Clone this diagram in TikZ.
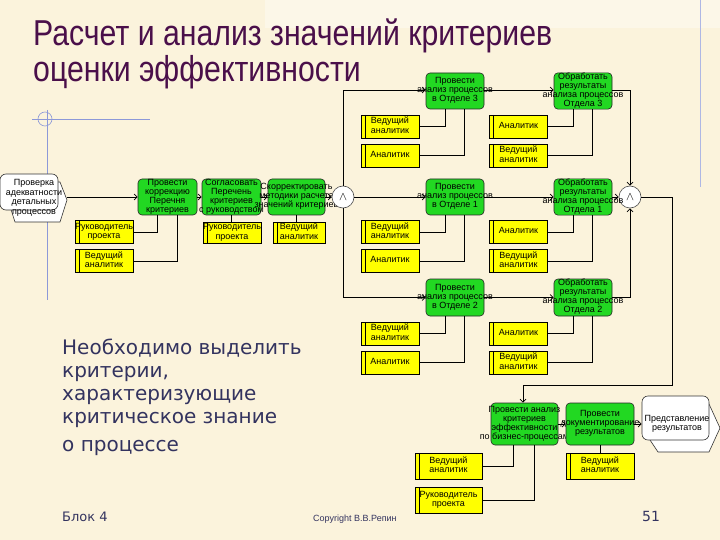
\documentclass[tikz,border=0pt]{standalone}
\usepackage{fontspec}
\setmainfont{Liberation Sans}
\newfontfamily\dejavu{DejaVu Sans}
\usetikzlibrary{arrows.meta,calc}
\definecolor{bg}{HTML}{FBF3DC}
\definecolor{actgreen}{HTML}{22D822}
\definecolor{resyellow}{HTML}{FFFF00}
\definecolor{titlec}{HTML}{4A0F4A}
\definecolor{slate}{HTML}{33335F}
\definecolor{decor}{HTML}{8C98D8}
\newcommand\boxtxt[1]{\makebox[0pt]{\begin{tabular}{@{}c@{}}#1\end{tabular}}}
\begin{document}
\begin{tikzpicture}[x=1pt,y=-1pt,
  gbox/.style={draw=black!85, line width=0.6pt, fill=actgreen, rounded corners=4pt, inner sep=0pt,
    font=\fontsize{9}{9}\selectfont, minimum width=58pt, minimum height=36pt},
  ybox/.style={draw=black, line width=0.6pt, fill=resyellow, inner sep=0pt,
    minimum width=58pt, minimum height=23pt, font=\fontsize{9}{9.5}\selectfont,
    path picture={\draw[line width=0.6pt] ([xshift=4pt]path picture bounding box.north west) -- ([xshift=4pt]path picture bounding box.south west);}},
  junc/.style={circle, draw=black!70, line width=0.6pt, fill=white, minimum size=22pt, inner sep=0pt},
  iface/.style={draw=black!80, line width=0.6pt, fill=white},
  iftext/.style={font=\fontsize{9}{9.5}\selectfont, align=center, inner sep=0pt},
  flow/.style={draw=black, line width=0.7pt, -{Straight Barb[length=3pt,width=6pt]}},
  link/.style={draw=black, line width=0.7pt}
]
\useasboundingbox (0,0) rectangle (720,540);
\fill[bg] (0,0) rectangle (720,540);
\fill[white, opacity=0.35] (265,0) rectangle (720,28);
% decorative guide lines
\draw[decor, line width=0.6pt] (32,119) -- (150,119);
\draw[decor, line width=0.6pt] (47,110) -- (47,300);
\draw[decor, line width=0.6pt] (45,119) circle (7);
\draw[decor!70, line width=0.6pt] (700,0) -- (700,187);

% title
\node[anchor=base west, inner sep=0pt, text=titlec, font=\fontsize{36}{36}\selectfont] (title1) at (33,46) {\scalebox{0.84}[1]{Расчет и анализ значений критериев}};
\node[anchor=base west, inner sep=0pt, text=titlec, font=\fontsize{36}{36}\selectfont] (title2) at (33,82) {\scalebox{0.84}[1]{оценки эффективности}};

% left note
\node[anchor=north west, inner sep=0pt, align=left, text=slate, font=\dejavu\fontsize{20}{23}\selectfont] (note) at (62,339)
  {Необходимо выделить\\критерии,\\характеризующие\\критическое знание\\[5pt]о процессе};

% footer
\node[anchor=base west, inner sep=0pt, text=slate, font=\dejavu\fontsize{13}{13}\selectfont] (blok) at (62,521) {Блок 4};
\node[anchor=base west, inner sep=0pt, text=slate, font=\fontsize{9}{9}\selectfont] (copy) at (313,521) {Copyright В.В.Репин};
\node[anchor=base west, inner sep=0pt, text=slate, font=\dejavu\fontsize{14}{14}\selectfont] (page) at (642,521) {51};

% start interface
\filldraw[iface] (12,182) -- (60,182) -- (67,200) -- (60,222) -- (15,222) -- (8,200) -- cycle;
\node[iface, rounded corners=6pt, minimum width=58pt, minimum height=36pt, inner sep=0pt] (start) at (29,192) {};
\node[iftext] (starttxt) at (34,198) {Проверка\\адекватности\\детальных\\процессов};
\coordinate (starttip) at (67,197);

% end interface
\filldraw[iface] (650,404) -- (709,404) -- (720,428) -- (709,452) -- (658,452) -- (650,440) -- cycle;
\node[iface, rounded corners=6pt, minimum width=67pt, minimum height=44pt, inner sep=0pt] (pres) at (675.5,418) {};
\node[iftext] (prestxt) at (677,424) {Представление\\результатов};

% left chain
\node[gbox, minimum width=59pt] (p1) at (167.5,197) {\boxtxt{Провести\\коррекцию\\Перечня\\критериев}};
\node[gbox, minimum width=59pt] (p2) at (231.5,197) {\boxtxt{Согласовать\\Перечень\\критериев\\с руководством}};
\node[gbox, minimum width=57pt] (p3) at (296.5,197) {\boxtxt{Скорректировать\\методики расчета\\значений критериев}};
\node[ybox] (p1r) at (104,232) {\boxtxt{Руководитель\\проекта}};
\node[ybox] (p1v) at (104,261) {\boxtxt{Ведущий\\аналитик}};
\node[ybox, minimum height=21pt] (p2r) at (232,232.5) {\boxtxt{Руководитель\\проекта}};
\node[ybox, minimum width=52pt, minimum height=21pt] (p3v) at (299,232.5) {\boxtxt{Ведущий\\аналитик}};

% junctions
\node[junc] (j1) at (343,197) {\large$\wedge$};
\node[junc] (j2) at (630,197) {\large$\wedge$};

% department 3
\node[gbox] (a3) at (455,91) {\boxtxt{Провести\\анализ процессов\\в Отделе 3}};
\node[gbox] (b3) at (583,91) {\boxtxt{Обработать\\результаты\\анализа процессов\\Отдела 3}};
\node[ybox] (a3v) at (390,126.5) {\boxtxt{Ведущий\\аналитик}};
\node[ybox] (a3a) at (390,155.5) {\boxtxt{Аналитик}};
\node[ybox] (b3a) at (518.5,126.5) {\boxtxt{Аналитик}};
\node[ybox] (b3v) at (518.5,155.5) {\boxtxt{Ведущий\\аналитик}};

% department 1
\node[gbox] (a1) at (455,197) {\boxtxt{Провести\\анализ процессов\\в Отделе 1}};
\node[gbox] (b1) at (583,197) {\boxtxt{Обработать\\результаты\\анализа процессов\\Отдела 1}};
\node[ybox] (a1v) at (390,232) {\boxtxt{Ведущий\\аналитик}};
\node[ybox] (a1a) at (390,261) {\boxtxt{Аналитик}};
\node[ybox] (b1a) at (518.5,232) {\boxtxt{Аналитик}};
\node[ybox] (b1v) at (518.5,261) {\boxtxt{Ведущий\\аналитик}};

% department 2
\node[gbox, minimum height=37pt] (a2) at (455,297.5) {\boxtxt{Провести\\анализ процессов\\в Отделе 2}};
\node[gbox, minimum height=37pt] (b2) at (583,297.5) {\boxtxt{Обработать\\результаты\\анализа процессов\\Отдела 2}};
\node[ybox] (a2v) at (390,333.5) {\boxtxt{Ведущий\\аналитик}};
\node[ybox] (a2a) at (390,362.5) {\boxtxt{Аналитик}};
\node[ybox] (b2a) at (518.5,333.5) {\boxtxt{Аналитик}};
\node[ybox] (b2v) at (518.5,362.5) {\boxtxt{Ведущий\\аналитик}};

% final chain
\node[gbox, minimum width=67pt, minimum height=42pt] (c1) at (524.5,424) {\boxtxt{Провести анализ\\критериев\\эффективности\\по бизнес-процессам}};
\node[gbox, minimum width=68pt, minimum height=42pt] (c2) at (600,424) {\boxtxt{Провести\\документирование\\результатов}};
\node[ybox, minimum width=67pt, minimum height=26pt] (c1v) at (448.5,466) {\boxtxt{Ведущий\\аналитик}};
\node[ybox, minimum width=67pt, minimum height=26pt] (c1r) at (448.5,500) {\boxtxt{Руководитель\\проекта}};
\node[ybox, minimum width=68pt, minimum height=26pt] (c2v) at (600,466) {\boxtxt{Ведущий\\аналитик}};

% flows
\draw[flow] (starttip) -- (p1);
\draw[flow] (p1) -- (p2);
\draw[flow] (p2) -- (p3);
\draw[flow] (p3) -- (j1);
\draw[flow] (j1.north) |- ([yshift=1pt]a3.west);
\draw[flow] (j1) -- (a1);
\draw[flow] (j1.south) |- (a2.west);
\draw[flow] ([yshift=1pt]a3.east) -- ([yshift=1pt]b3.west);
\draw[flow] (a1) -- (b1);
\draw[flow] (a2) -- (b2);
\draw[flow] ([yshift=1pt]b3.east) -| (j2.north);
\draw[flow] (b1) -- (j2);
\draw[flow] (b2.east) -| (j2.south);
\coordinate (t1) at (672,197);
\coordinate (t2) at (672,385);
\draw[flow] (j2.east) -- (t1) -- (t2) -| ([xshift=-1.5pt]c1.north);
\draw[flow] (c1) -- (c2);
\draw[flow] (c2) -- (pres.west |- c2);

% resource links
\draw[link] ([xshift=-10.5pt]p1.south) |- (p1r.east);
\draw[link] ([xshift=9.5pt]p1.south) |- (p1v.east);
\draw[link] (p2r.north -| p2.south) -- (p2.south);
\draw[link] (p3v.north -| p3.south) -- (p3.south);
\draw[link] ([xshift=-10pt]a3.south) |- (a3v.east);
\draw[link] ([xshift=9pt]a3.south) |- (a3a.east);
\draw[link] ([xshift=-10pt]b3.south) |- (b3a.east);
\draw[link] ([xshift=9pt]b3.south) |- (b3v.east);
\draw[link] ([xshift=-10pt]a1.south) |- (a1v.east);
\draw[link] ([xshift=9pt]a1.south) |- (a1a.east);
\draw[link] ([xshift=-10pt]b1.south) |- (b1a.east);
\draw[link] ([xshift=9pt]b1.south) |- (b1v.east);
\draw[link] ([xshift=-10pt]a2.south) |- (a2v.east);
\draw[link] ([xshift=9pt]a2.south) |- (a2a.east);
\draw[link] ([xshift=-10pt]b2.south) |- (b2a.east);
\draw[link] ([xshift=9pt]b2.south) |- (b2v.east);
\draw[link] ([xshift=-11.5pt]c1.south) |- (c1v.east);
\draw[link] ([xshift=9.5pt]c1.south) |- (c1r.east);
\draw[link] (c2.south) -- (c2v.north);
\end{tikzpicture}
\end{document}
